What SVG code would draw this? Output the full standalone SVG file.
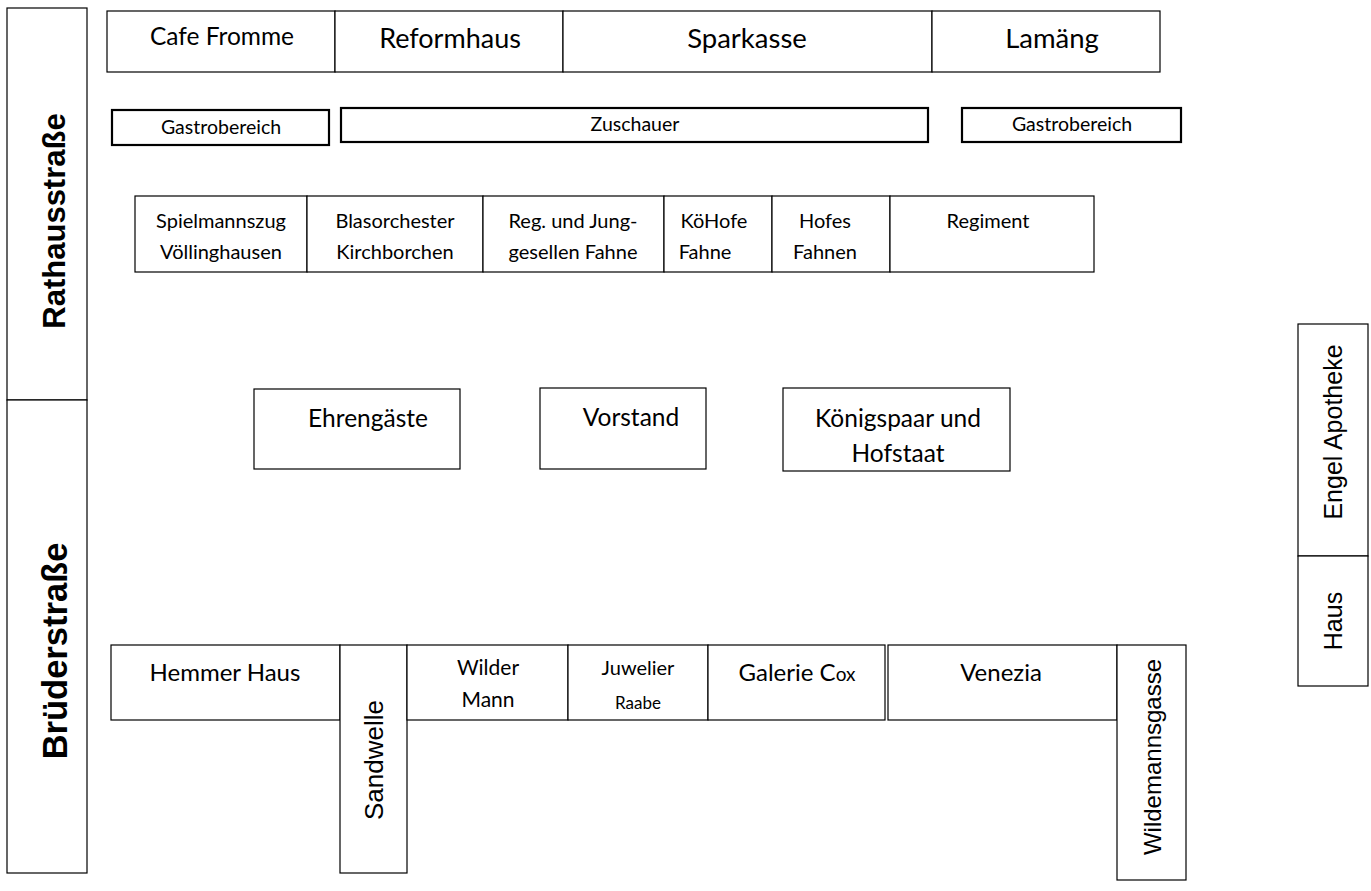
<svg xmlns="http://www.w3.org/2000/svg" width="1371" height="891" viewBox="0 0 1371 891">
<style>
.b{fill:#fff;stroke:#000;stroke-width:1.2}
.t{fill:#fff;stroke:#000;stroke-width:2.2}
.c{font-family:Lato,"Open Sans",sans-serif;fill:#000;text-anchor:middle}
.a{font-family:"Liberation Sans",Arial,sans-serif;fill:#000;text-anchor:middle}
.r{font-size:20px}
</style>
<rect width="1371" height="891" fill="#fff"/>
<g id="rathausstrasse"><rect class="b" x="7" y="8" width="80" height="392"/><text class="a" font-size="31" font-weight="bold" transform="translate(65,221) rotate(-90)">Rathausstraße</text></g>
<g id="bruederstrasse"><rect class="b" x="7" y="400" width="80" height="473"/><text class="a" font-size="34.5" font-weight="bold" transform="translate(67,651) rotate(-90)">Brüderstraße</text></g>
<g id="cafe-fromme"><rect class="b" x="107" y="11" width="228" height="61"/><text class="c" x="222" y="45" font-size="24.5">Cafe Fromme</text></g>
<g id="reformhaus"><rect class="b" x="335" y="11" width="228" height="61"/><text class="c" x="450" y="48" font-size="27">Reformhaus</text></g>
<g id="sparkasse"><rect class="b" x="563" y="11" width="369" height="61"/><text class="c" x="747" y="48" font-size="27.5">Sparkasse</text></g>
<g id="lamaeng"><rect class="b" x="932" y="11" width="228" height="61"/><text class="c" x="1052" y="48" font-size="27.5">Lamäng</text></g>
<g id="gastro-left"><rect class="t" x="112" y="110" width="217" height="35"/><text class="c" x="221" y="134" font-size="19.5">Gastrobereich</text></g>
<g id="zuschauer"><rect class="t" x="341" y="108" width="587" height="34"/><text class="c" x="635" y="131" font-size="19.5">Zuschauer</text></g>
<g id="gastro-right"><rect class="t" x="962" y="108" width="219" height="34"/><text class="c" x="1072" y="131" font-size="19.5">Gastrobereich</text></g>
<g id="spielmannszug"><rect class="b" x="135" y="196" width="172" height="76"/><text class="c r" x="221" y="228">Spielmannszug</text><text class="c r" x="221" y="259">Völlinghausen</text></g>
<g id="blasorchester"><rect class="b" x="307" y="196" width="176" height="76"/><text class="c r" x="395" y="228">Blasorchester</text><text class="c r" x="395" y="259">Kirchborchen</text></g>
<g id="reg-jung"><rect class="b" x="483" y="196" width="181" height="76"/><text class="c r" x="573" y="228">Reg. und Jung-</text><text class="c r" x="573" y="259">gesellen Fahne</text></g>
<g id="koehofe"><rect class="b" x="664" y="196" width="108" height="76"/><text class="c r" x="714" y="228">KöHofe</text><text class="c r" x="705" y="259">Fahne</text></g>
<g id="hofes"><rect class="b" x="772" y="196" width="118" height="76"/><text class="c r" x="825" y="228">Hofes</text><text class="c r" x="825" y="259">Fahnen</text></g>
<g id="regiment"><rect class="b" x="890" y="196" width="204" height="76"/><text class="c r" x="988" y="228">Regiment</text></g>
<g id="ehrengaeste"><rect class="b" x="254" y="389" width="206" height="80"/><text class="c" x="368" y="427" font-size="24.5">Ehrengäste</text></g>
<g id="vorstand"><rect class="b" x="540" y="388" width="166" height="81"/><text class="c" x="631" y="426" font-size="24.5">Vorstand</text></g>
<g id="koenigspaar"><rect class="b" x="783" y="388" width="227" height="83"/><text class="c" x="898" y="427" font-size="24.5">Königspaar und</text><text class="c" x="898" y="462" font-size="24.5">Hofstaat</text></g>
<g id="hemmer-haus"><rect class="b" x="111" y="645" width="229" height="75"/><text class="c" x="225" y="681" font-size="24">Hemmer Haus</text></g>
<g id="sandwelle"><rect class="b" x="340" y="645" width="67" height="228"/><text class="a" font-size="26" transform="translate(383,760) rotate(-90)">Sandwelle</text></g>
<g id="wilder-mann"><rect class="b" x="407" y="645" width="161" height="75"/><text class="c" x="488" y="675" font-size="21">Wilder</text><text class="c" x="488" y="707" font-size="21">Mann</text></g>
<g id="juwelier"><rect class="b" x="568" y="645" width="140" height="75"/><text class="c" x="638" y="675" font-size="20">Juwelier</text><text class="c" x="638" y="709" font-size="17">Raabe</text></g>
<g id="galerie-cox"><rect class="b" x="708" y="645" width="177" height="75"/><text class="c" x="797" y="681" font-size="24">Galerie C<tspan font-size="19">ox</tspan></text></g>
<g id="venezia"><rect class="b" x="888" y="645" width="229" height="75"/><text class="c" x="1001" y="681" font-size="24">Venezia</text></g>
<g id="wildemannsgasse"><rect class="b" x="1117" y="645" width="69" height="235"/><text class="a" font-size="24" transform="translate(1161,757) rotate(-90)">Wildemannsgasse</text></g>
<g id="engel-apotheke"><rect class="b" x="1298" y="324" width="70" height="232"/><text class="a" font-size="25" transform="translate(1342,432) rotate(-90)">Engel Apotheke</text></g>
<g id="haus"><rect class="b" x="1298" y="556" width="70" height="130"/><text class="a" font-size="25" transform="translate(1342,621) rotate(-90)">Haus</text></g>
<g id="connectors"/>
</svg>
